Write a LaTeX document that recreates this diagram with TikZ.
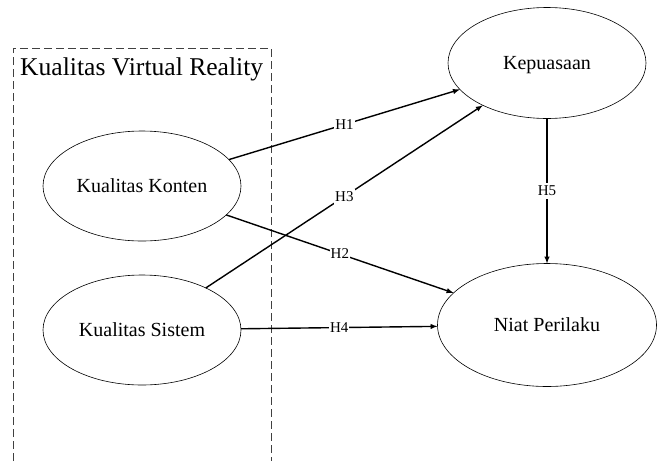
\documentclass[tikz,border=0pt]{standalone}
\usepackage{fontspec}
\setmainfont{Liberation Serif}
\usetikzlibrary{arrows,shapes.geometric}
\tikzstyle{construct} = [draw, ellipse, line width=.6pt, inner sep=0pt, outer sep=0pt, text depth=0pt, font={\fontsize{20}{24}\selectfont}]
\tikzstyle{hyp} = [->, >=latex, line width=1.4pt]
\tikzstyle{hlabel} = [fill=white, inner xsep=1pt, inner ysep=3pt, font={\fontsize{15}{17}\selectfont}]
\tikzstyle{group} = [dashed, dash pattern=on 8pt off 4pt, line width=.8pt, color=black!75]

\begin{document}
\begin{tikzpicture}[x=1pt, y=-1pt]
  \useasboundingbox (0,0) rectangle (660,461);

  % Kualitas Virtual Reality group
  \draw[group] (13,461) -- (13,48) -- (271,48) -- (271,461);
  \node[anchor=base west, inner sep=0pt, font={\fontsize{25.6}{30}\selectfont}] (vr) at (20,75) {Kualitas Virtual Reality};

  % constructs
  \node[construct, minimum width=198, minimum height=110] (konten) at (142,186) {Kualitas Konten};
  \node[construct, minimum width=198, minimum height=110] (sistem) at (142,330) {Kualitas Sistem};
  \node[construct, minimum width=198, minimum height=111] (kepuasaan) at (547,63) {Kepuasaan};
  \node[construct, minimum width=219, minimum height=123] (niat) at (547,325) {Niat Perilaku};

  % hypotheses
  \draw[hyp] (konten) -- node[hlabel] {H1} (kepuasaan);
  \draw[hyp] (konten) -- node[hlabel] {H2} (niat);
  \draw[hyp] (sistem) -- node[hlabel] {H3} (kepuasaan);
  \draw[hyp] (sistem) -- node[hlabel] {H4} (niat);
  \draw[hyp] (kepuasaan) -- node[hlabel] {H5} (niat);
\end{tikzpicture}
\end{document}
